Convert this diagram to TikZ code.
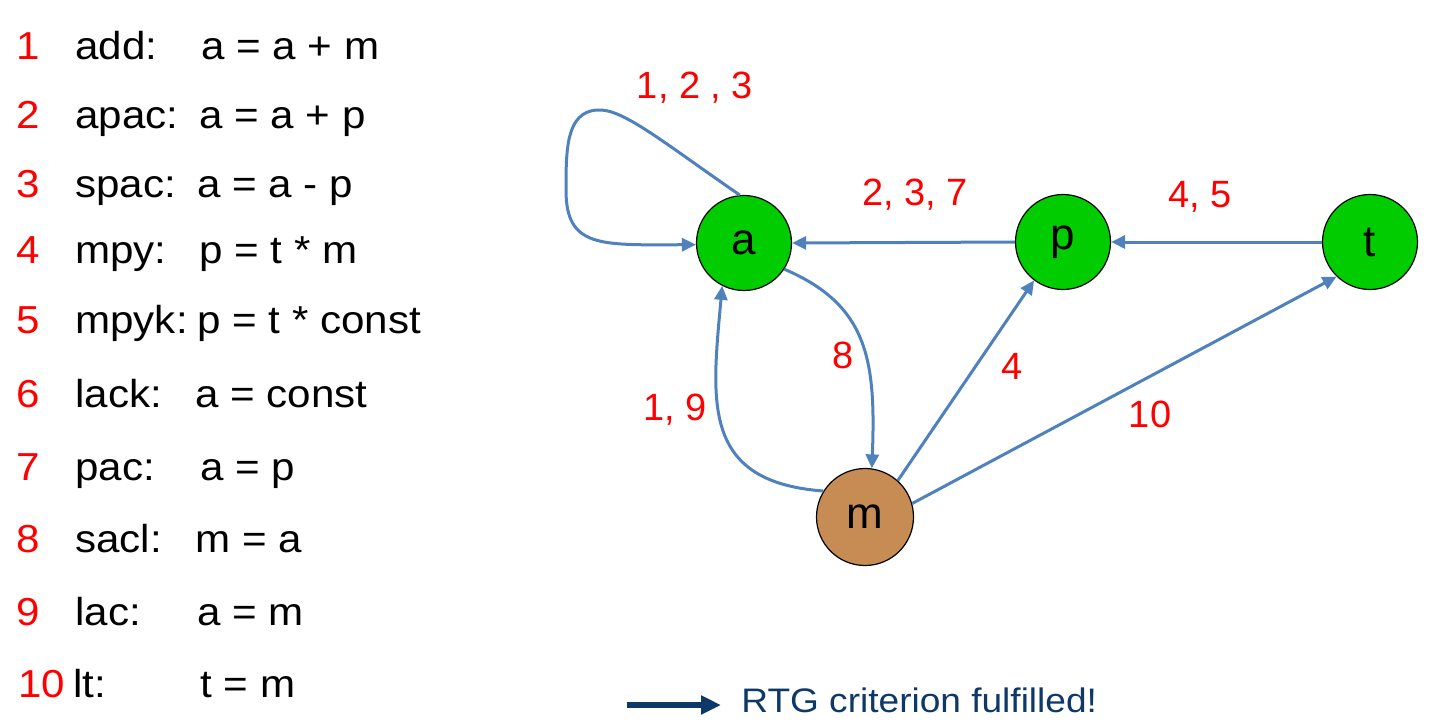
\documentclass[tikz,border=0pt]{standalone}
\usepackage{fontspec}
\setmainfont{Liberation Sans}
\newfontfamily\listfont{Liberation Sans}[FakeStretch=1.08]
\newfontfamily\notefont{Liberation Sans}[FakeStretch=1.09]
\usetikzlibrary{arrows.meta}
\definecolor{edgeblue}{RGB}{79,129,189}
\definecolor{nodegreen}{RGB}{0,204,0}
\definecolor{nodebrown}{RGB}{198,140,83}
\definecolor{navyblue}{RGB}{14,56,104}
\definecolor{lblred}{RGB}{255,0,0}
\begin{document}
\begin{tikzpicture}[x=0.5pt,y=-0.5pt,
  state/.style={circle,draw=black,line width=0.6pt,minimum size=47.5pt,inner sep=0pt,font=\fontsize{22}{26}\selectfont},
  edge/.style={draw=edgeblue,line width=1.5pt,-{Triangle[length=7pt,width=6.5pt]}},
  lbl/.style={text=lblred,font=\fontsize{19}{23}\selectfont,inner sep=0pt},
  num/.style={text=lblred,font=\listfont\fontsize{19.5}{23}\selectfont,anchor=base west,inner sep=0pt},
  txt/.style={text=black,font=\listfont\fontsize{19.5}{23}\selectfont,anchor=base west,inner sep=0pt}]
\useasboundingbox (0,0) rectangle (1450,724);

% instruction list
\node[num] (n1) at (16,59) {1};   \node[txt] (c1) at (75,59) {add:};   \node[txt] (e1) at (201,59) {a = a + m};
\node[num] (n2) at (16,128) {2};  \node[txt] (c2) at (75,128) {apac:}; \node[txt] (e2) at (199,128) {a = a + p};
\node[num] (n3) at (16,197) {3};  \node[txt] (c3) at (75,197) {spac:}; \node[txt] (e3) at (197,197) {a = a - p};
\node[num] (n4) at (16,263) {4};  \node[txt] (c4) at (75,263) {mpy:};  \node[txt] (e4) at (199,263) {p = t * m};
\node[num] (n5) at (16,333) {5};  \node[txt] (c5) at (75,333) {mpyk:}; \node[txt] (e5) at (197,333) {p = t * const};
\node[num] (n6) at (16,407) {6};  \node[txt] (c6) at (75,407) {lack:}; \node[txt] (e6) at (195,407) {a = const};
\node[num] (n7) at (16,480) {7};  \node[txt] (c7) at (75,480) {pac:};  \node[txt] (e7) at (200,480) {a = p};
\node[num] (n8) at (16,552) {8};  \node[txt] (c8) at (75,552) {sacl:}; \node[txt] (e8) at (195,552) {m = a};
\node[num] (n9) at (16,625) {9};  \node[txt] (c9) at (75,625) {lac:};  \node[txt] (e9) at (197,625) {a = m};
\node[num] (n10) at (18,697) {10}; \node[txt] (c10) at (73,697) {lt:}; \node[txt] (e10) at (200,697) {t = m};

% graph nodes
\node[state,fill=nodegreen] (a) at (744,243) {a};
\node[state,fill=nodegreen] (p) at (1063,242) {p};
\node[state,fill=nodegreen] (t) at (1370,242) {t};
\node[state,fill=nodebrown,minimum size=48.5pt] (m) at (865,517) {m};

% edges
\draw[edge] (a.95) .. controls (660,140) and (622,108) .. (597,110)
  .. controls (566,112) and (566,150) .. (566,190)
  .. controls (566,248) and (600,245) .. (a.182);
\draw[edge] (p.west) -- (a.east);
\draw[edge] (t.west) -- (p.east);
\draw[edge] (a.-33) .. controls (868,305) and (876,360) .. (m.82);
\draw[edge] (m.148) .. controls (700,482) and (712,400) .. (a.243);
\draw[edge] (m.48) -- (p.233);
\draw[edge] (m.16) -- (t.226);

% edge labels
\node[lbl] (l123) at (695,88) {1, 2 , 3};
\node[lbl] (l237) at (915,195) {2, 3, 7};
\node[lbl] (l45) at (1200,197) {4, 5};
\node[lbl] (l8) at (843,355) {8};
\node[lbl] (l4) at (1012,366) {4};
\node[lbl] (l19) at (675,410) {1, 9};
\node[lbl] (l10) at (1150,414) {10};

% conclusion
\node[text=navyblue,font=\notefont\fontsize{17}{20}\selectfont,anchor=base west,inner sep=0pt] (rtg) at (741,712) {RTG criterion fulfilled!};
\coordinate (arrS) at (627,705);
\draw[navyblue,line width=2.6pt,-{Triangle[length=10pt,width=9pt]},shorten >=10pt] (arrS) -- (arrS -| rtg.west);
\end{tikzpicture}
\end{document}
